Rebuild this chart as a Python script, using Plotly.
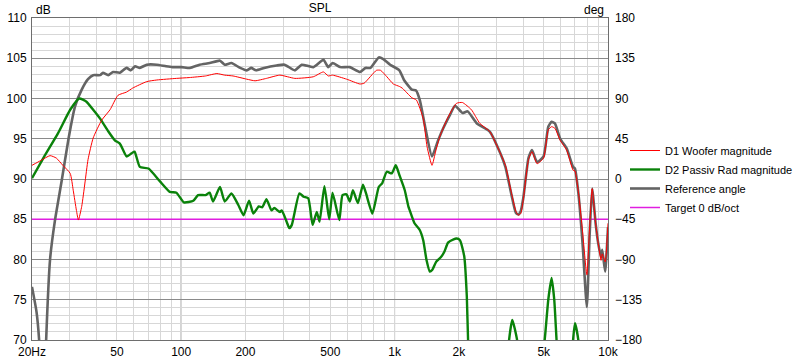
import plotly.graph_objects as go

# ---------------- data ----------------
woofer_f = [20, 22, 24.3, 26, 27.9, 30.2, 31.2, 32.3, 33, 34.2, 35.4, 36.6, 38.7, 42.4, 46.4,
            50.6, 55.5, 59.3, 69, 76.9, 95, 109, 130, 147, 160, 175, 203, 222, 251, 290, 341,
            416, 464, 489, 512, 596, 688, 720, 822, 860, 920, 987, 1053, 1085, 1204, 1266,
            1362, 1420, 1497, 1560, 1630, 1782, 1950, 2080, 2292, 2510, 2792, 3130, 3306,
            3532, 3700, 3800, 3900, 4008, 4240, 4405, 4650, 4990, 5250, 5440, 5640, 5970,
            6400, 6860, 7000, 7280, 7600, 7960, 8200, 8430, 8750, 9000, 9280, 9400, 9700, 10000]
woofer_db = [91.7, 92.3, 92.9, 92.6, 91.7, 90.7, 88.6, 86.1, 84.9, 86.6, 89.5, 92.4, 95.1, 97.3, 98.6,
             100.4, 100.8, 101.3, 102.1, 102.3, 102.5, 102.6, 102.8, 103.1, 102.9, 102.8, 102.4, 102.2, 102.5, 102.9, 102.5,
             102.7, 103.3, 102.8, 102.9, 102.4, 101.8, 101.9, 103.5, 103.5, 102.7, 101.8, 101.5, 101.3, 100.1, 99.8,
             97.5, 94.0, 91.7, 93.5, 95.3, 97.7, 99.4, 99.5, 98.6, 96.9, 95.9, 93.2, 91.7,
             88.2, 86.0, 85.5, 85.7, 87.4, 92.4, 93.4, 91.9, 92.6, 96.1, 96.5, 96.3, 94.8,
             93.6, 91.1, 91.0, 88.2, 83.5, 78.1, 84.0, 88.8, 84.5, 82.0, 79.9, 80.7, 79.7, 84.5]

passive_f = [20, 22.6, 26.5, 30.2, 33.3, 36, 38.7, 41.7, 45.6, 48.9, 51.6, 55.5, 58.6, 60.5, 64,
             70.3, 79.6, 88.5, 95, 103, 114, 120, 130, 136, 141, 152, 160, 172, 185, 196, 208,
             218, 231, 240, 251, 265, 273, 290, 296, 312, 321, 330, 358, 375, 394, 413, 432,
             445, 469, 494, 512, 551, 570, 595, 617, 638, 673, 711, 735, 787, 843, 876, 919,
             970, 1013, 1053, 1116, 1160, 1178, 1240, 1310, 1362, 1412, 1462, 1500, 1565, 1650,
             1713, 1780, 1890, 1950, 2025, 2120, 2180, 2210, 2300, 2800, 3300, 3440, 3560, 3750,
             4000, 4600, 5050, 5250, 5440, 5600, 5740, 6000, 6500, 6860, 7000, 7260, 7600, 10000]
passive_db = [90.1, 92.6, 95.7, 98.6, 100.0, 99.6, 98.6, 97.5, 95.9, 94.8, 94.4, 92.8, 93.2, 93.4, 91.5,
              91.3, 89.7, 88.4, 88.3, 87.1, 87.3, 88.0, 88.0, 88.3, 87.2, 89.0, 87.2, 88.2, 86.8, 85.5, 87.3,
              85.7, 86.6, 86.5, 87.5, 86.1, 86.4, 85.9, 86.1, 84.7, 83.9, 84.3, 88.2, 87.8, 87.6, 84.3, 85.9,
              84.7, 89.1, 85.0, 88.3, 84.9, 88.0, 88.1, 87.2, 88.6, 87.0, 89.3, 88.2, 85.7, 89.0, 89.5, 90.9,
              90.7, 91.7, 90.5, 88.6, 86.6, 86.1, 84.5, 83.7, 82.4, 79.9, 78.5, 78.7, 79.7, 80.3,
              81.0, 82.1, 82.5, 82.6, 82.4, 80.4, 75.4, 70.0, 62.0, 55.0, 62.0, 70.0, 72.5, 70.0,
              62.0, 62.0, 70.0, 75.0, 77.7, 75.0, 70.0, 62.0, 62.0, 70.0, 72.1, 70.0, 62.0, 55.0]

reference_f = [20, 21, 21.6, 22.3, 23, 23.3, 24.3, 25.6, 27.6, 29.7, 31.8, 34.2, 36.6, 38.7, 41.7,
               43, 45.5, 48, 51.6, 55.5, 58, 60.8, 64, 69, 76.9, 85, 91, 100.5, 110, 122, 136,
               152, 160, 172, 189, 203, 213, 224, 245, 280, 305, 341, 367, 416, 464, 489, 512,
               555, 617, 688, 730, 771, 843, 885, 953, 1053, 1107, 1204, 1260, 1313, 1390, 1497,
               1600, 1690, 1820, 1920, 2080, 2200, 2430, 2792, 3130, 3306, 3532, 3700, 3800, 3900,
               4008, 4240, 4405, 4650, 4990, 5250, 5440, 5640, 5970, 6400, 6860, 7000, 7280, 7600,
               7960, 8200, 8430, 8750, 9000, 9280, 9400, 9700, 10000]
reference_val = [76.6, 73.5, 70.0, 62.0, 65.0, 70.0, 80.0, 84.8, 89.9, 95.1, 99.0, 101.1, 102.4, 102.9, 102.9,
                 103.2, 102.9, 103.3, 103.2, 103.8, 103.5, 104.0, 103.8, 104.2, 104.2, 104.0, 103.9, 103.9, 103.8, 104.2, 104.4,
                 104.7, 104.2, 104.4, 103.8, 103.5, 103.8, 103.5, 103.8, 104.1, 104.2, 103.5, 104.2, 103.9, 104.8, 103.9, 104.4,
                 103.9, 103.9, 103.3, 103.8, 103.8, 105.1, 104.9, 104.2, 103.5, 102.3, 101.1, 101.0, 99.8, 96.5, 92.8,
                 94.8, 96.3, 98.0, 99.1, 98.2, 98.4, 96.9, 95.9, 93.2, 91.5, 88.0, 85.8, 85.6, 86.0,
                 87.6, 92.6, 93.6, 92.1, 92.8, 96.5, 97.1, 96.9, 95.0, 93.8, 91.5, 91.3, 88.0, 82.0,
                 74.1, 83.0, 88.8, 84.5, 82.0, 80.3, 81.2, 78.5, 84.0]

target_f = [20, 10000]
target_db = [85, 85]

x_label_vals = [20, 50, 100, 200, 500, 1000, 2000, 5000, 10000]
x_label_text = ["20Hz", "50", "100", "200", "500", "1k", "2k", "5k", "10k"]
x_minor_vals = [30, 40, 60, 70, 80, 90, 300, 400, 600, 700, 800, 900,
                3000, 4000, 6000, 7000, 8000, 9000]
x_dark_vals = [100, 1000]

# ---------------- figure ----------------
fig = go.Figure()
font_name = "Liberation Sans"

fig.add_trace(go.Scatter(x=target_f, y=target_db, mode="lines", name="Target 0 dB/oct",
                         line=dict(color="#e01ee0", width=1.5), legendrank=4))
fig.add_trace(go.Scatter(x=reference_f, y=reference_val, mode="lines", name="Reference angle",
                         line=dict(color="#646464", width=2.6, shape="spline", smoothing=0.5),
                         legendrank=3))
fig.add_trace(go.Scatter(x=passive_f, y=passive_db, mode="lines", name="D2 Passiv Rad magnitude",
                         line=dict(color="#0a820a", width=2.4, shape="spline", smoothing=0.5),
                         legendrank=2))
fig.add_trace(go.Scatter(x=woofer_f, y=woofer_db, mode="lines", name="D1 Woofer magnitude",
                         line=dict(color="#ff0000", width=1, shape="spline", smoothing=0.5),
                         legendrank=1))
# invisible trace to activate the right-hand degree axis
fig.add_trace(go.Scatter(x=[20, 10000], y=[-180, 180], yaxis="y2", mode="lines",
                         line=dict(width=0), showlegend=False, hoverinfo="skip"))

for xv in x_dark_vals:
    fig.add_shape(type="line", xref="x", yref="paper", x0=xv, x1=xv, y0=0, y1=1,
                  line=dict(color="#808080", width=1), layer="below")

fig.update_layout(
    width=802, height=360,
    margin=dict(l=32, r=194, t=18, b=20, autoexpand=False),
    paper_bgcolor="white", plot_bgcolor="white",
    font=dict(family=font_name, size=12, color="black"),
    title=dict(text="SPL", x=0.399, xanchor="center", y=0.978, yanchor="middle",
               font=dict(family=font_name, size=12, color="black")),
    xaxis=dict(type="log", range=[1.30103, 4], tickmode="array",
               tickvals=x_label_vals, ticktext=x_label_text, automargin=False,
               showgrid=True, gridcolor="#d7d7d7", gridwidth=1,
               minor=dict(tickmode="array", tickvals=x_minor_vals, showgrid=True,
                          gridcolor="#d7d7d7", gridwidth=1, ticks=""),
               ticks="", showline=True, linecolor="#6e6e6e", linewidth=1, mirror=True,
               zeroline=False, tickfont=dict(size=12), ticklabelstandoff=1),
    yaxis=dict(range=[70, 110], dtick=5, tick0=70, showgrid=True, gridcolor="#8a8a8a",
               gridwidth=1, automargin=False,
               minor=dict(dtick=1, showgrid=True, gridcolor="#d7d7d7", gridwidth=1, ticks=""),
               ticks="", showline=True, linecolor="#6e6e6e", linewidth=1, mirror=True,
               zeroline=False, tickfont=dict(size=12), ticklabelstandoff=2),
    yaxis2=dict(range=[-180, 180], dtick=45, tick0=-180, overlaying="y", side="right",
                showgrid=False, zeroline=False, ticks="", showline=False, automargin=False,
                tickfont=dict(size=12), ticklabelstandoff=6),
    legend=dict(x=1.0295, xanchor="left", y=0.5, yanchor="middle",
                font=dict(family=font_name, size=11, color="black"),
                bgcolor="rgba(0,0,0,0)", borderwidth=0, tracegroupgap=0),
    showlegend=True,
    annotations=[
        dict(text="dB", xref="paper", yref="paper", x=0, y=1, xanchor="left", yanchor="bottom",
             xshift=2, yshift=-1, showarrow=False, font=dict(size=12)),
        dict(text="deg", xref="paper", yref="paper", x=1, y=1, xanchor="right", yanchor="bottom",
             xshift=-2, yshift=-1, showarrow=False, font=dict(size=12)),
    ],
)

fig.write_html("out.html", config={"displayModeBar": False},
               post_script="document.body.style.margin='0';")
